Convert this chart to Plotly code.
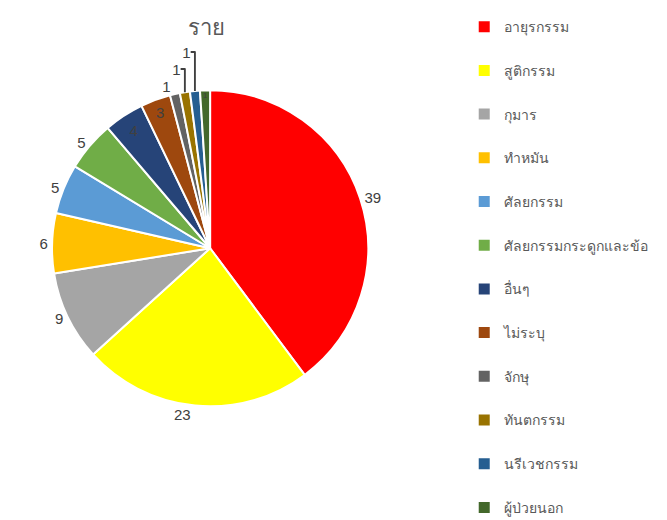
import plotly.graph_objects as go

labels = ["อายุรกรรม", "สูติกรรม", "กุมาร", "ทำหมัน", "ศัลยกรรม",
          "ศัลยกรรมกระดูกและข้อ", "อื่นๆ", "ไม่ระบุ", "จักษุ", "ทันตกรรม",
          "นรีเวชกรรม", "ผู้ป่วยนอก"]
values = [39, 23, 9, 6, 5, 5, 4, 3, 1, 1, 1, 1]
colors = ["#FF0000", "#FFFF00", "#A5A5A5", "#FFC000", "#5B9BD5", "#70AD47",
          "#264478", "#9E480E", "#636363", "#997300", "#255E91", "#43682B"]
text_pos = ["outside", "outside", "outside", "outside", "outside", "outside",
            "inside", "inside", "outside", "outside", "outside", "inside"]

fig = go.Figure()
fig.add_trace(go.Pie(
    labels=labels, values=values, sort=False, direction="clockwise",
    marker=dict(colors=colors, line=dict(color="white", width=2)),
    textinfo="value", textposition=text_pos,
    textfont=dict(size=15, color="#404040", family="Liberation Sans"),
    insidetextorientation="horizontal",
    showlegend=False,
    domain=dict(x=[0.066, 0.540], y=[0.234, 0.842]),
))

# legend built from dummy markers so entries can be spaced out
for name, c in zip(labels, colors):
    fig.add_trace(go.Scatter(
        x=[None], y=[None], mode="markers", name=name,
        legendgroup=name,
        marker=dict(symbol="square", size=11, color=c),
    ))

fig.update_xaxes(visible=False)
fig.update_yaxes(visible=False)
fig.update_layout(
    width=667, height=520,
    margin=dict(l=0, r=0, t=0, b=0),
    paper_bgcolor="white", plot_bgcolor="white",
    title=dict(text="ราย", x=0.298, y=0.962, xanchor="center", yanchor="middle",
               font=dict(size=22, color="#595959", family="Noto Sans")),
    legend=dict(x=0.684, y=0.994, xanchor="left", yanchor="top", itemwidth=30,
                tracegroupgap=22.5, font=dict(size=14, color="#595959", family="Noto Sans")),
)

fig.write_html("out.html")
